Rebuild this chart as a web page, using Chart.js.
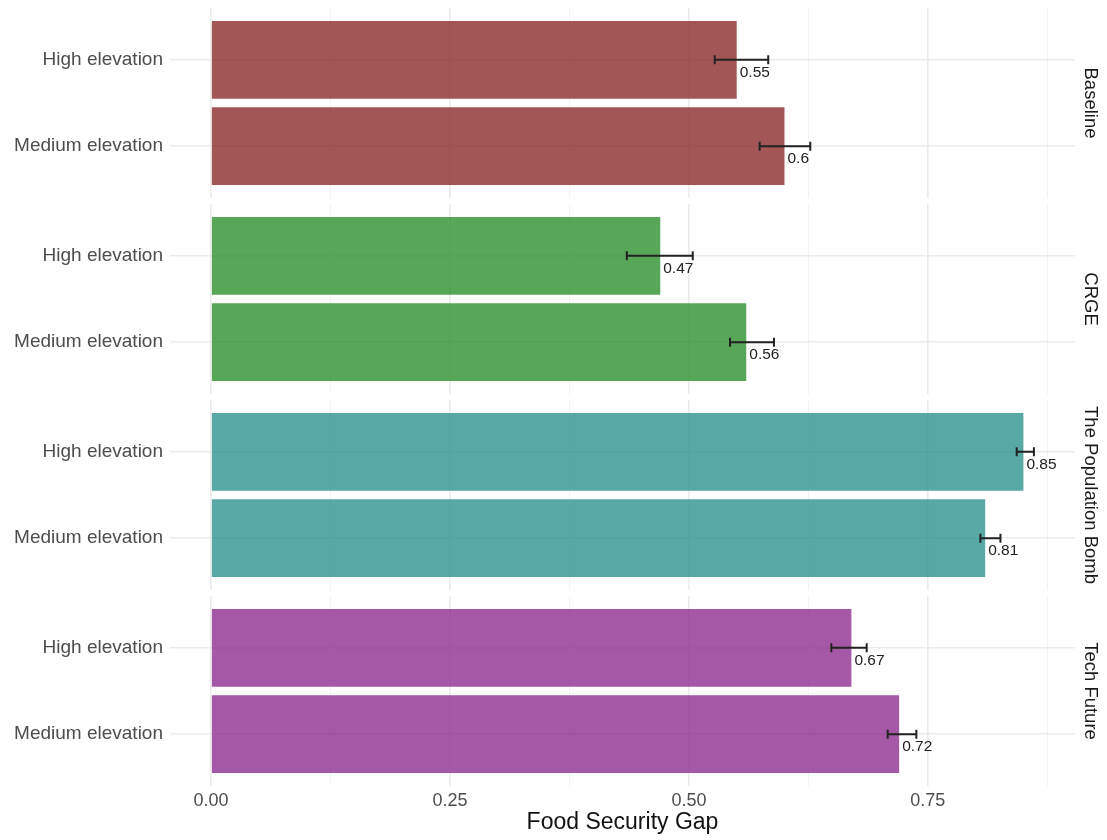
<!DOCTYPE html>
<html>
<head>
<meta charset="utf-8">
<title>Food Security Gap</title>
<script src="https://cdn.jsdelivr.net/npm/chart.js@4.4.1/dist/chart.umd.min.js"></script>
<style>
  body { margin: 0; background: #fff; }
  #wrap { position: relative; width: 1107px; height: 840px; }
  #wrap canvas { position: absolute; left: 0; }
</style>
</head>
<body>
<div id="wrap">
  <canvas id="panel0" width="1107" height="190" style="top:8px"></canvas>
  <canvas id="panel1" width="1107" height="190" style="top:204px"></canvas>
  <canvas id="panel2" width="1107" height="190" style="top:400px"></canvas>
  <canvas id="panel3" width="1107" height="244" style="top:596px"></canvas>
</div>
<script>
// Food security gap by scenario and elevation zone
(function () {
  "use strict";

  var scenarios = ['Baseline', 'CRGE', 'The Population Bomb', 'Tech Future'];
  var elevations = ['High elevation', 'Medium elevation'];
  // [high, medium] for each scenario
  var gapMean = [[0.55, 0.6], [0.47, 0.56], [0.85, 0.81], [0.67, 0.72]];
  var gapLower = [[0.527, 0.574], [0.435, 0.543], [0.843, 0.805], [0.649, 0.708]];
  var gapUpper = [[0.583, 0.627], [0.504, 0.589], [0.861, 0.826], [0.686, 0.738]];
  var barColours = ['rgba(140,44,44,0.8)', 'rgba(46,144,46,0.8)', 'rgba(46,146,144,0.8)', 'rgba(143,46,143,0.8)'];
  var xTicks = [0, 0.125, 0.25, 0.375, 0.5, 0.625, 0.75, 0.875];
  var xLimits = [-0.043, 0.904];

  var FONT = '"Liberation Sans", Arial, Helvetica, sans-serif';
  Chart.defaults.font.family = FONT;

  function isMajor(v) {
    return Math.abs(v / 0.25 - Math.round(v / 0.25)) < 1e-6;
  }

  // keep the plot area flush with the panel box, no room reserved for label overhang
  function noOverhang(scale) {
    scale.paddingTop = 0;
    scale.paddingBottom = 0;
    scale.paddingLeft = 0;
    scale.paddingRight = 0;
  }

  // Whiskers and the value text next to each bar
  var errorBars = {
    id: 'errorBars',
    afterDatasetsDraw: function (chart, args, opts) {
      var ctx = chart.ctx, xs = chart.scales.x, ys = chart.scales.y;
      var p = opts.panel, i, y, x0, x1;
      ctx.save();
      for (i = 0; i < elevations.length; i += 1) {
        y = ys.getPixelForValue(i);
        x0 = xs.getPixelForValue(gapLower[p][i]);
        x1 = xs.getPixelForValue(gapUpper[p][i]);
        ctx.strokeStyle = '#222';
        ctx.lineWidth = 2;
        ctx.beginPath();
        ctx.moveTo(x0, y); ctx.lineTo(x1, y);
        ctx.moveTo(x0, y - 4.5); ctx.lineTo(x0, y + 4.5);
        ctx.moveTo(x1, y - 4.5); ctx.lineTo(x1, y + 4.5);
        ctx.stroke();

        ctx.fillStyle = '#222';
        ctx.font = '15.5px ' + FONT;
        ctx.textAlign = 'left';
        ctx.textBaseline = 'middle';
        ctx.fillText(String(gapMean[p][i]), xs.getPixelForValue(gapMean[p][i]) + 3, y + 13);
      }
      ctx.restore();
    }
  };

  function makePanel(p) {
    var last = p === scenarios.length - 1;
    var data = gapMean[p].map(function (v, i) { return { x: v, y: i }; });

    return new Chart(document.getElementById('panel' + p), {
      type: 'bar',
      data: {
        datasets: [{
          data: data,
          backgroundColor: barColours[p],
          borderWidth: 0,
          categoryPercentage: 1,
          barPercentage: 0.9
        }]
      },
      plugins: [errorBars],
      options: {
        indexAxis: 'y',
        responsive: false,
        animation: false,
        layout: { padding: 0 },
        plugins: {
          legend: { display: false },
          tooltip: { enabled: false },
          errorBars: { panel: p }
        },
        scales: {
          x: {
            type: 'linear',
            position: 'bottom',
            min: xLimits[0],
            max: xLimits[1],
            afterBuildTicks: function (scale) {
              scale.ticks = xTicks.map(function (v) { return { value: v }; });
            },
            afterFit: function (scale) {
              scale.height = last ? 54 : 0;
              noOverhang(scale);
            },
            border: { display: false },
            grid: {
              drawTicks: false,
              color: function (c) { return isMajor(c.tick.value) ? '#ebebeb' : '#f3f3f3'; },
              lineWidth: function (c) { return isMajor(c.tick.value) ? 1.6 : 1; }
            },
            ticks: {
              display: last,
              autoSkip: false,
              maxRotation: 0,
              padding: 4,
              color: '#4d4d4d',
              font: { size: 18 },
              callback: function (v) { return isMajor(v) ? v.toFixed(2) : ''; }
            },
            title: {
              display: last,
              text: 'Food Security Gap',
              color: '#111',
              font: { size: 23 },
              padding: { top: 0, bottom: 4 }
            }
          },
          y: {
            type: 'linear',
            position: 'left',
            reverse: true,
            offset: false,
            min: -0.6,
            max: 1.6,
            afterBuildTicks: function (scale) {
              scale.ticks = elevations.map(function (e, i) { return { value: i }; });
            },
            afterFit: function (scale) {
              scale.width = 170;
              noOverhang(scale);
            },
            border: { display: false },
            grid: {
              offset: false,
              drawTicks: false,
              color: '#ebebeb',
              lineWidth: 1.6
            },
            ticks: {
              padding: 7,
              color: '#4d4d4d',
              font: { size: 19 },
              callback: function (v) { return elevations[v]; }
            }
          },
          strip: {
            type: 'linear',
            position: 'right',
            offset: false,
            afterFit: function (scale) {
              scale.width = 32;
              noOverhang(scale);
            },
            border: { display: false },
            grid: { display: false, drawTicks: false },
            ticks: { display: false },
            title: {
              display: true,
              text: scenarios[p],
              color: '#1a1a1a',
              font: { size: 18.5 },
              padding: { top: 6, bottom: 0 }
            }
          }
        }
      }
    });
  }

  scenarios.forEach(function (s, p) {
    makePanel(p);
  });
})();
</script>
</body>
</html>
